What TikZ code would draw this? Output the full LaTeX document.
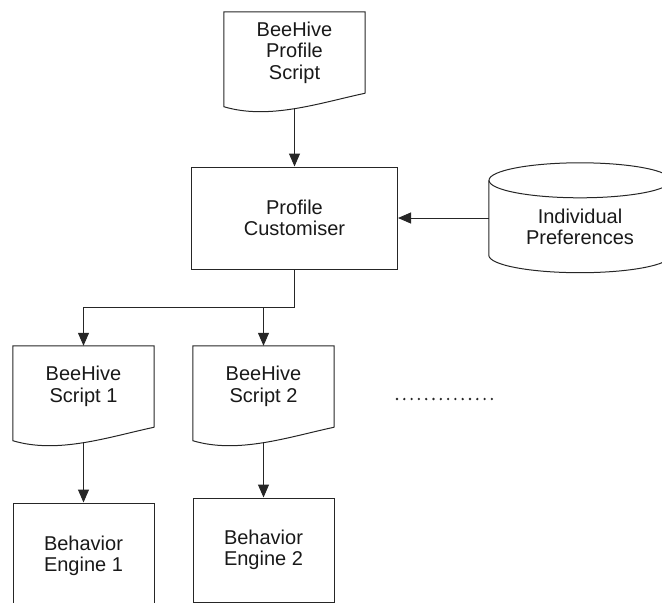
\documentclass[tikz,border=0pt]{standalone}
\usepackage{fontspec}
\setmainfont{Liberation Sans}
\usetikzlibrary{arrows.meta}

\tikzset{
  line/.style={draw=black!85, line width=1pt},
  flow/.style={line, -{Triangle[length=13pt,width=11pt]}},
  txt/.style={align=center, font=\fontsize{20}{21.5}\selectfont, text=black!90, inner sep=0pt},
  procbox/.style={txt, line, shape=rectangle},
  docbody/.style={txt, shape=rectangle, minimum width=141pt, minimum height=81pt},
}

% document symbol: three straight sides and a wavy bottom edge
\newcommand\docoutline[1]{%
  \draw[line] (#1.south east) -- (#1.north east) -- (#1.north west)
    -- ([shift={(0,13.5)}]#1.south west)
    .. controls ([shift={(45,27)}]#1.south west) and ([shift={(95,10)}]#1.south west)
    .. (#1.south east);}

\begin{document}
\begin{tikzpicture}[x=1pt,y=-1pt]
\useasboundingbox (0,0) rectangle (662,603);
\clip (0,0) rectangle (662,603);

% profile script
\node[docbody] (doc0) at (294.5,52.5) {BeeHive\\Profile\\Script};
\docoutline{doc0}

% customiser
\node[procbox, minimum width=206pt, minimum height=102pt] (main) at (294.5,218) {Profile\\Customiser};

% preferences store (cylinder)
\node[shape=rectangle, minimum width=182pt, minimum height=74.5pt, inner sep=0pt] (pref) at (580,217.75) {};
\node[txt] (preftext) at (580,227) {Individual\\Preferences};
\draw[line] (pref.north west) -- (pref.south west)
  arc[start angle=180, end angle=360, x radius=91pt, y radius=17.5pt] -- (pref.north east);
\draw[line] (pref.north) ellipse[x radius=91pt, y radius=17.5pt];

% generated scripts
\node[docbody] (s1) at (83.5,386.5) {BeeHive\\Script 1};
\docoutline{s1}
\node[docbody] (s2) at (263.5,386.5) {BeeHive\\Script 2};
\docoutline{s2}

% engines
\node[procbox, minimum width=141pt, minimum height=106pt] (eng1) at (83.5,556) {Behavior\\Engine 1};
\node[procbox, minimum width=141pt, minimum height=104pt] (eng2) at (263.5,550) {Behavior\\Engine 2};

% more scripts
\foreach \i in {0,...,13}
  \fill[black!85] (397+7.3*\i,399) circle[radius=1.3pt];

% connectors
\draw[flow] ([shift={(0,16)}]doc0.south) -- (main.north);
\draw[flow] (pref.west |- main.east) -- (main.east);
\coordinate (split) at (294.5,307);
\draw[flow] (main.south) -- (split) -| (s1.north);
\draw[flow] (s2.north |- split) -- (s2.north);
\draw[flow] ([shift={(0,15)}]s1.south) -- (eng1.north);
\draw[flow] ([shift={(0,15)}]s2.south) -- (eng2.north);
\end{tikzpicture}
\end{document}
